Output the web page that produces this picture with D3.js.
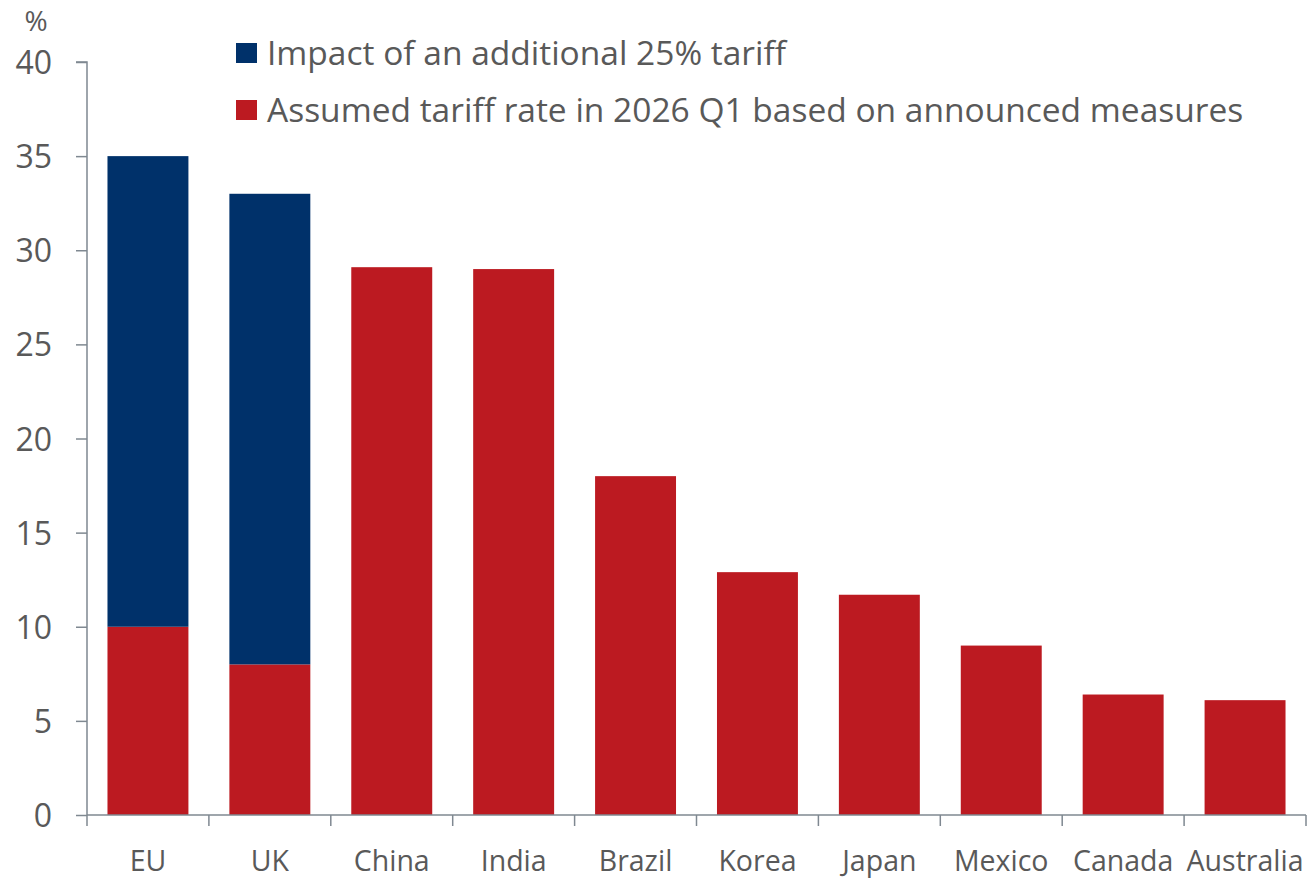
<!DOCTYPE html>
<html>
<head>
<meta charset="utf-8">
<script src="https://cdn.jsdelivr.net/npm/d3@7"></script>
<style>
  html, body { margin: 0; padding: 0; background: #fff; }
  svg { display: block; }
  svg text { font-family: "Open Sans", "Noto Sans", sans-serif; }
</style>
</head>
<body>
<svg id="chart" width="1311" height="882"></svg>
<script>
// Tariff rates by trading partner (%)
const categories = ["EU", "UK", "China", "India", "Brazil", "Korea", "Japan", "Mexico", "Canada", "Australia"];
const assumedRate = [10, 8, 29.1, 29.0, 18, 12.9, 11.7, 9.0, 6.4, 6.1];
const additionalImpact = [25, 25, 0, 0, 0, 0, 0, 0, 0, 0];
const yTicks = [0, 5, 10, 15, 20, 25, 30, 35, 40];
const seriesNames = [
  "Impact of an additional 25% tariff",
  "Assumed tariff rate in 2026 Q1 based on announced measures"
];

const colBlue = "#00316a";
const colRed = "#bc1a21";
const textCol = "#595959";
const axisCol = "#7f8891";

const svg = d3.select("#chart");
const margin = { left: 87, right: 5, top: 62, bottom: 67 };
const W = 1311, H = 882;

const x = d3.scaleBand()
  .domain(categories)
  .range([margin.left, W - margin.right])
  .paddingInner(0.336)
  .paddingOuter(0.168);

const y = d3.scaleLinear()
  .domain([0, 40])
  .range([H - margin.bottom, margin.top]);

// stacked data: assumed rate at the bottom, additional impact on top
const rows = categories.map((c, i) => ({ cat: c, assumed: assumedRate[i], impact: additionalImpact[i] }));
const stack = d3.stack().keys(["assumed", "impact"])(rows);
const colors = { assumed: colRed, impact: colBlue };

svg.append("g")
  .selectAll("g")
  .data(stack)
  .join("g")
  .attr("fill", d => colors[d.key])
  .selectAll("rect")
  .data(d => d.filter(s => s[1] > s[0]))
  .join("rect")
  .attr("x", d => x(d.data.cat))
  .attr("width", x.bandwidth())
  .attr("y", d => y(d[1]))
  .attr("height", d => y(d[0]) - y(d[1]));

// y axis
const yAxis = svg.append("g")
  .attr("transform", `translate(${margin.left},0)`)
  .call(d3.axisLeft(y).tickValues(yTicks).tickSize(11).tickPadding(24))
  .attr("font-family", null)
  .attr("font-size", null);
yAxis.select(".domain").attr("stroke", axisCol).attr("stroke-width", 1.5)
  .attr("d", `M-11,${y(40)}H0V${y(0)}`);
yAxis.selectAll(".tick line").attr("stroke", axisCol).attr("stroke-width", 1.5);
yAxis.selectAll(".tick text")
  .attr("fill", textCol)
  .style("font-size", "32px")
  .attr("dy", "0.36em");

// x axis: ticks sit on the band boundaries
const xAxisG = svg.append("g")
  .attr("transform", `translate(0,${y(0)})`);
const boundaries = categories.map(c => x(c) - x.step() * x.paddingInner() / 2)
  .concat([x(categories[categories.length - 1]) + x.bandwidth() + x.step() * x.paddingInner() / 2]);
xAxisG.append("path")
  .attr("d", `M${boundaries[0]},0H${boundaries[boundaries.length - 1]}`)
  .attr("stroke", axisCol).attr("stroke-width", 1.5).attr("fill", "none");
xAxisG.selectAll("line.tk")
  .data(boundaries)
  .join("line")
  .attr("class", "tk")
  .attr("x1", d => d).attr("x2", d => d)
  .attr("y1", 0).attr("y2", 11)
  .attr("stroke", axisCol).attr("stroke-width", 1.5);
xAxisG.selectAll("text")
  .data(categories)
  .join("text")
  .attr("x", d => x(d) + x.bandwidth() / 2)
  .attr("y", 56)
  .attr("text-anchor", "middle")
  .attr("fill", textCol)
  .style("font-size", "28.5px")
  .text(d => d);

// unit label
svg.append("text")
  .attr("x", 36).attr("y", 31)
  .attr("text-anchor", "middle")
  .attr("fill", textCol)
  .style("font-size", "28px")
  .text("%");

// legend
const legend = svg.append("g");
const legendColors = [colBlue, colRed];
seriesNames.forEach((name, i) => {
  const gy = 53 + i * 57;
  legend.append("rect")
    .attr("x", 236).attr("y", gy - 10)
    .attr("width", 21).attr("height", 20)
    .attr("fill", legendColors[i]);
  legend.append("text")
    .attr("x", 267).attr("y", gy)
    .attr("dy", "0.35em")
    .attr("fill", textCol)
    .style("font-size", "33.5px")
    .text(name);
});
</script>
</body>
</html>
